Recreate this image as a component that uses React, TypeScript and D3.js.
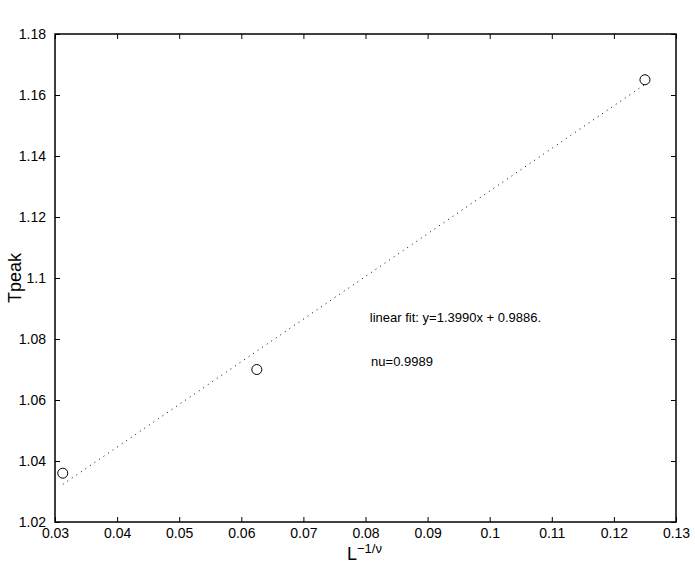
import React, { useEffect, useRef } from "react";
import * as d3 from "d3";

// measured points: L^(-1/nu) vs peak temperature
const xValues = [0.03125, 0.0625, 0.125];
const tpeakValues = [1.036, 1.07, 1.165];
const fitSlope = 1.399;
const fitIntercept = 0.9886;
const xTicks = [0.03, 0.04, 0.05, 0.06, 0.07, 0.08, 0.09, 0.1, 0.11, 0.12, 0.13];
const yTicks = [1.02, 1.04, 1.06, 1.08, 1.1, 1.12, 1.14, 1.16, 1.18];

export default function App() {
  const svgRef = useRef<SVGSVGElement>(null);
  const width = 695;
  const height = 564;

  useEffect(() => {
    document.body.style.margin = "0";
    document.body.style.overflow = "hidden";

    const svg = d3.select(svgRef.current);
    svg.selectAll("*").remove();

    const margin = { top: 34, right: 19, bottom: 42, left: 55 };
    const font = "'Liberation Sans', Arial, sans-serif";

    const x = d3.scaleLinear().domain([0.03, 0.13]).range([margin.left, width - margin.right]);
    const y = d3.scaleLinear().domain([1.02, 1.18]).range([height - margin.bottom, margin.top]);

    // frame
    svg
      .append("rect")
      .attr("x", x(0.03))
      .attr("y", y(1.18))
      .attr("width", x(0.13) - x(0.03))
      .attr("height", y(1.02) - y(1.18))
      .attr("fill", "none")
      .attr("stroke", "#000")
      .attr("stroke-width", 1.5);

    const fmt = (d: number) => String(+d.toFixed(2));

    // bottom axis + mirrored top ticks
    const bottom = svg
      .append("g")
      .attr("transform", `translate(0,${y(1.02)})`)
      .call(d3.axisBottom(x).tickValues(xTicks).tickSize(-5).tickPadding(8).tickFormat((d) => fmt(+d)));
    const top = svg
      .append("g")
      .attr("transform", `translate(0,${y(1.18)})`)
      .call(d3.axisTop(x).tickValues(xTicks).tickSize(-5).tickFormat(() => ""));

    // left axis + mirrored right ticks
    const left = svg
      .append("g")
      .attr("transform", `translate(${x(0.03)},0)`)
      .call(d3.axisLeft(y).tickValues(yTicks).tickSize(-5).tickPadding(8).tickFormat((d) => fmt(+d)));
    const right = svg
      .append("g")
      .attr("transform", `translate(${x(0.13)},0)`)
      .call(d3.axisRight(y).tickValues(yTicks).tickSize(-5).tickFormat(() => ""));

    [bottom, top, left, right].forEach((g) => {
      g.select(".domain").remove();
      g.selectAll("line").attr("stroke", "#000");
      g.selectAll("text").attr("font-family", font).attr("font-size", 14).attr("fill", "#000");
    });
    bottom.selectAll("text").attr("dy", "0.6em");
    left.selectAll("text").attr("dx", "-1px");

    // dotted fit line
    const x0 = d3.min(xValues)!;
    const x1 = d3.max(xValues)!;
    svg
      .append("line")
      .attr("x1", x(x0))
      .attr("y1", y(fitSlope * x0 + fitIntercept))
      .attr("x2", x(x1))
      .attr("y2", y(fitSlope * x1 + fitIntercept))
      .attr("stroke", "#000")
      .attr("stroke-width", 1)
      .attr("stroke-dasharray", "1,4.5");

    // data markers
    svg
      .append("g")
      .selectAll("circle")
      .data(xValues.map((v, i) => ({ x: v, y: tpeakValues[i] })))
      .join("circle")
      .attr("cx", (d) => x(d.x))
      .attr("cy", (d) => y(d.y))
      .attr("r", 5)
      .attr("fill", "none")
      .attr("stroke", "#000")
      .attr("stroke-width", 1);

    // annotations
    svg
      .append("text")
      .attr("x", x(0.0807))
      .attr("y", y(1.0855))
      .attr("font-family", font)
      .attr("font-size", 13)
      .text(`linear fit: y=${fitSlope.toFixed(4)}x + ${fitIntercept.toFixed(4)}.`);
    svg
      .append("text")
      .attr("x", x(0.0809))
      .attr("y", y(1.071))
      .attr("font-family", font)
      .attr("font-size", 13)
      .text("nu=0.9989");

    // axis titles
    svg
      .append("text")
      .attr("transform", `translate(21,${(y(1.02) + y(1.18)) / 2})rotate(-90)`)
      .attr("text-anchor", "middle")
      .attr("font-family", font)
      .attr("font-size", 18)
      .text("Tpeak");

    const xl = svg
      .append("text")
      .attr("x", 347)
      .attr("y", 560)
      .attr("font-family", font)
      .attr("font-size", 18);
    xl.append("tspan").text("L");
    xl.append("tspan").attr("dy", -7).attr("font-size", 13).text("\u22121/\u03bd");
  }, []);

  return <svg ref={svgRef} width={width} height={height} style={{ display: "block" }}></svg>;
}
